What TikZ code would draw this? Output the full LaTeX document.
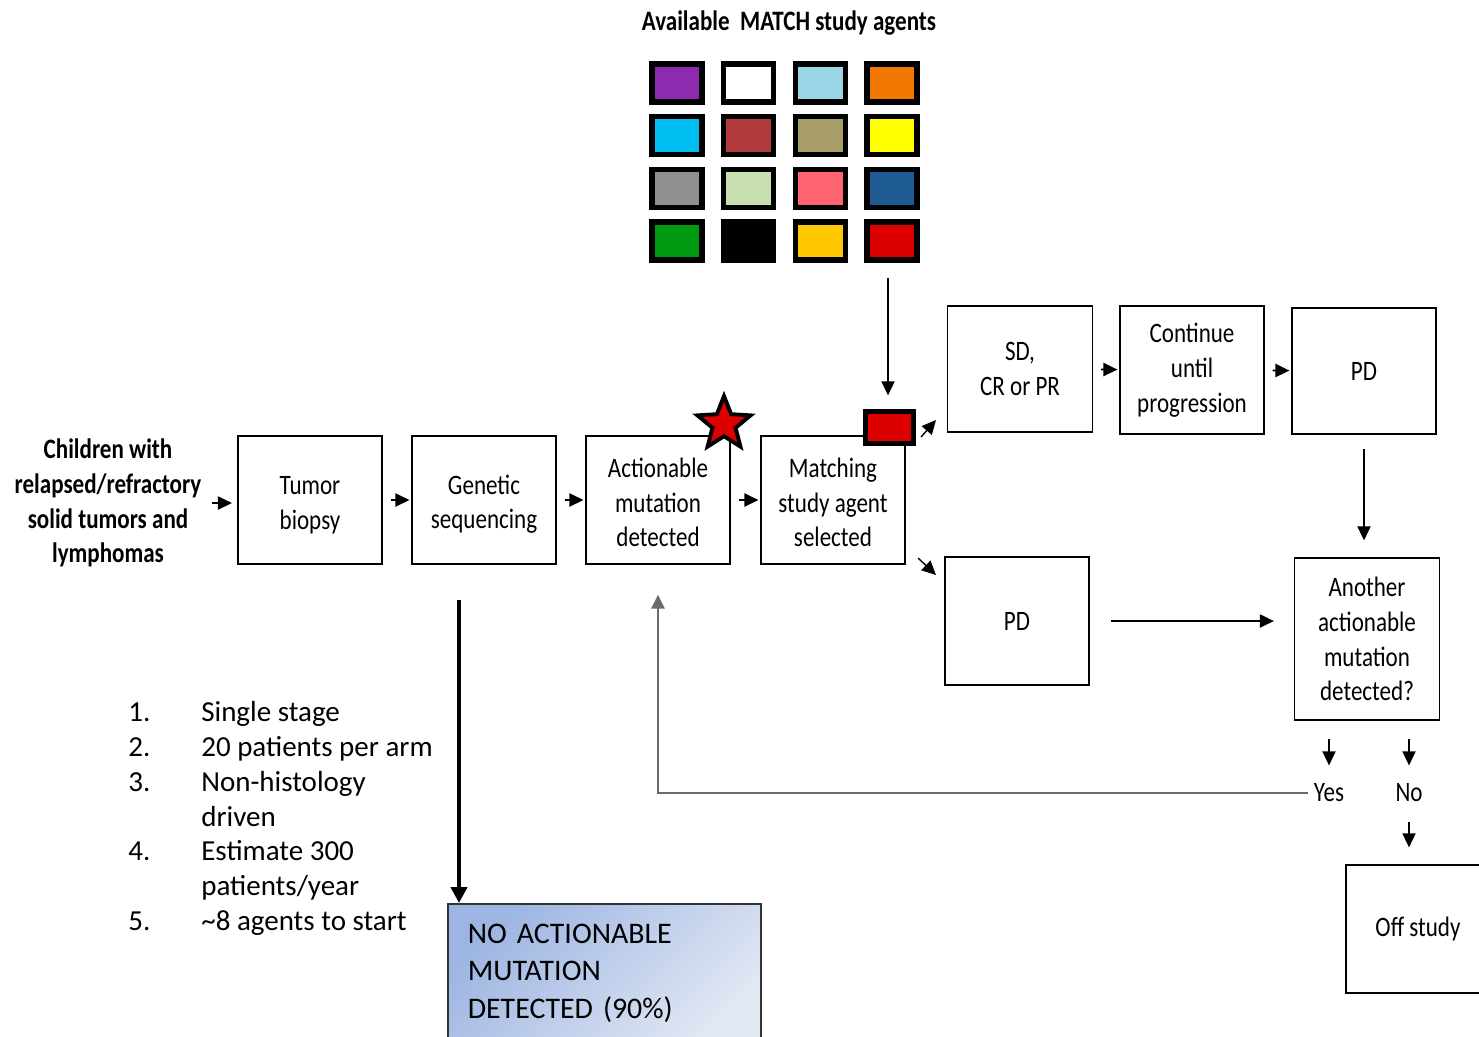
\documentclass[tikz,border=0pt]{standalone}
\usepackage{fontspec}
\setmainfont{Carlito}
\newfontfamily\boxfont[FakeStretch=0.82]{Carlito}
\usetikzlibrary{arrows.meta,shapes.geometric}

% agent colours
\definecolor{agPurple}{HTML}{8E2AAE}
\definecolor{agIce}{HTML}{9AD6E6}
\definecolor{agOrange}{HTML}{F07800}
\definecolor{agSky}{HTML}{00BEF2}
\definecolor{agBrick}{HTML}{B03A3C}
\definecolor{agKhaki}{HTML}{A89E68}
\definecolor{agYellow}{HTML}{FFFF00}
\definecolor{agGray}{HTML}{8F8F8F}
\definecolor{agMint}{HTML}{C8E0B0}
\definecolor{agSalmon}{HTML}{FF6470}
\definecolor{agNavy}{HTML}{1E5A94}
\definecolor{agGreen}{HTML}{009A10}
\definecolor{agGold}{HTML}{FFC800}
\definecolor{agRed}{HTML}{DD0000}
\definecolor{noactA}{HTML}{9DB5E2}
\definecolor{noactB}{HTML}{E1E7F3}
\definecolor{loopgray}{HTML}{6A6A6A}

\begin{document}
\begin{tikzpicture}[x=0.02cm, y=-0.02cm,
        box/.style={draw, line width=0.9pt, minimum width=2.88cm, minimum height=2.56cm,
            align=center, font=\boxfont\fontsize{16}{19.8}\selectfont},
        agent/.style={draw, line width=3pt, minimum width=1.0cm, minimum height=0.76cm},
        tip/.style={-{Triangle[length=8pt,width=7.5pt]}},
        flow/.style={tip, line width=0.9pt, shorten <=4.5pt, shorten >=1pt},
        link/.style={tip, line width=0.8pt},
        bolder/.style={font=\boxfont\bfseries\fontsize{16}{19.8}\selectfont}]

    \clip (0,0) rectangle (1479,1036);

    % agents on offer
    \node[bolder] (title) at (789,23) {Available\ \ MATCH study agents};
    \foreach \clr [count=\k from 0] in {agPurple,white,agIce,agOrange,
            agSky,agBrick,agKhaki,agYellow,
            agGray,agMint,agSalmon,agNavy,
            agGreen,black,agGold,agRed}{
        \pgfmathsetmacro\cx{677+71.7*mod(\k,4)}
        \pgfmathsetmacro\cy{83+52.7*floor(\k/4)}
        \node[agent, fill=\clr] (ag\k) at (\cx,\cy) {};
    }

    % main line
    \node[bolder, align=center, inner sep=0pt] (kids) at (108,503)
        {Children with\\relapsed/refractory\\solid tumors and\\lymphomas};
    \node[box] (biopsy) at (310,500) {\\[-4pt]Tumor\\biopsy};
    \node[box] (seq) at (484,500) {\\[-4pt]Genetic\\sequencing};
    \node[box] (act) at (658,500) {\\[-6pt]Actionable\\mutation\\detected};
    \node[box] (match) at (833,500) {\\[-6pt]Matching\\study agent\\selected};

    % response branch
    \node[box, minimum width=2.9cm, minimum height=2.52cm] (resp) at (1020,369) {SD,\\CR or PR};
    \node[box, minimum height=2.56cm] (cont) at (1192,370) {Continue\\until\\progression};
    \node[box, minimum height=2.52cm] (pdtop) at (1364,371) {PD};
    \node[box] (pdlow) at (1017,621) {PD};
    \node[box, minimum width=2.9cm, minimum height=3.24cm] (another) at (1367,639)
        {Another\\actionable\\mutation\\detected?};
    \node[box] (off) at (1418,929) {Off study};
    \node[font=\boxfont\fontsize{16}{19.8}\selectfont] (yes) at (1329,793) {Yes};
    \node[font=\boxfont\fontsize{16}{19.8}\selectfont] (no) at (1409,793) {No};

    % marks
    \node[star, star points=5, star point ratio=2.3, minimum size=1.12cm,
        fill=agRed, draw=black, line width=2.2pt] (hit) at (724,424) {};
    \node[agent, fill=agRed, minimum width=0.96cm, minimum height=0.64cm] (pick) at (889.5,427.5) {};

    % no match
    \node[draw=black!80, line width=0.9pt, top color=noactA, bottom color=noactB, shading angle=45,
        anchor=north west, text width=5.46cm, inner xsep=0.4cm, inner ysep=0.4cm, align=left,
        font=\fontsize{17}{21.5}\selectfont] (noact) at (447,903)
        {NO ACTIONABLE\\MUTATION\\DETECTED (90\%)};

    % design notes
    \node[anchor=north west, inner sep=0pt, font=\fontsize{16.5}{19.8}\selectfont] (notes) at (128,697)
        {\begin{tabular}{@{}p{1.46cm}@{}l@{}}
            1. & Single stage\\
            2. & 20 patients per arm\\
            3. & Non-histology\\
               & driven\\
            4. & Estimate 300\\
               & patients/year\\
            5. & \textasciitilde8 agents to start
        \end{tabular}};

    % connectors
    \draw[flow, shorten <=5.7pt, shorten >=3pt] (kids.east) -- (kids.east -| biopsy.west);
    \draw[flow] (biopsy) -- (seq);
    \draw[flow] (seq) -- (act);
    \draw[flow] (act) -- (match);
    \draw[flow] (resp) -- (cont);
    \draw[flow] (cont) -- (pdtop);

    \coordinate (feed) at (888,278);
    \draw[link, shorten >=7.7pt] (feed) -- (feed |- pick.north);

    \coordinate (upA) at (921,437);
    \coordinate (upB) at (936,420);
    \draw[link] (upA) -- (upB);
    \coordinate (dnA) at (918,558);
    \draw[link] (dnA) -- ++(18,17);

    \draw[link, shorten <=8pt, shorten >=9.6pt] (pdtop.south) -- (pdtop.south |- another.north);
    \draw[link, line width=1pt, shorten <=12pt, shorten >=11.3pt] (pdlow) -- (pdlow -| another.west);
    \draw[link, shorten <=10.2pt, shorten >=7pt] (another.south -| yes) -- (yes.north);
    \draw[link, shorten <=10.2pt, shorten >=7pt] (another.south -| no) -- (no.north);
    \draw[link, shorten <=8pt, shorten >=9.6pt] (no.south) -- (no.south |- off.north);
    \draw[link, draw=loopgray, line width=1.3pt, shorten >=17pt] (yes.west) -| (act.south);

    \coordinate (split) at (459,600);
    \draw[-{Triangle[length=9pt,width=9pt]}, line width=2.3pt] (split) -- (split |- noact.north);
\end{tikzpicture}
\end{document}
